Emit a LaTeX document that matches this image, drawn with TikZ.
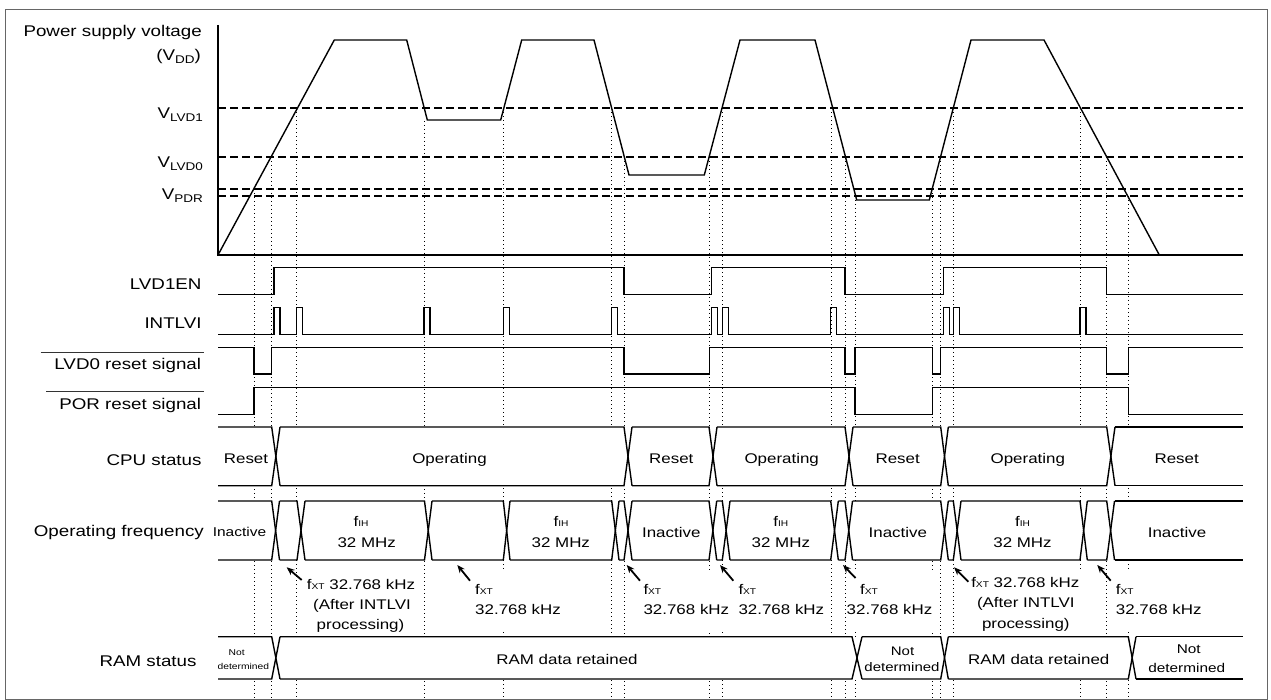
\documentclass[tikz,border=0pt]{standalone}
\usepackage{fontspec}
\setmainfont[FakeStretch=1.21]{Liberation Sans}
\usepackage{graphicx}
\usetikzlibrary{arrows.meta}
\newcommand\vsub[1]{\raisebox{-0.17em}{\scalebox{0.72}{#1}}}
\newcommand\fsub[1]{\raisebox{-0.03em}{\scalebox{0.6}{#1}}}
\newcommand\busrow[3]{%
  \fill[white] (218,#1) rectangle (1243,#2);
  \xdef\bprev{218}%
  \foreach \xa/\xb in {#3}{%
    \draw[wave] (\bprev,#1) -- (\xa,#1) -- (\xb,#2);
    \draw[wave] (\bprev,#2) -- (\xa,#2) -- (\xb,#1);
    \xdef\bprev{\xb}%
  }%
  \draw[wave] (\bprev,#1) -- (1243,#1);
  \draw[wave] (\bprev,#2) -- (1243,#2);
}
\begin{document}
\begin{tikzpicture}[x=1pt,y=-1pt,
  wave/.style={line width=1.4pt, line join=miter},
  dashl/.style={line width=1.6pt, dash pattern=on 8pt off 4pt},
  dotl/.style={line width=1pt, dash pattern=on 1pt off 3pt},
  lab/.style={anchor=base east, inner sep=0pt, font=\fontsize{15.5}{18}\selectfont},
  tx/.style={anchor=base, inner sep=0pt, font=\fontsize{14}{16}\selectfont},
  txw/.style={anchor=base west, inner sep=0pt, font=\fontsize{14}{16}\selectfont},
  arr/.style={line width=1.8pt, -{Stealth[length=8pt,width=6.5pt]}},
  ovl/.style={line width=1pt, black!80}]
\useasboundingbox (0,0) rectangle (1271,700);
\draw[black!60, line width=1pt] (5,10) rectangle (1267.5,699.5);

% dotted guide lines
\foreach \x/\y in {254/189.3, 271.7/157, 296.7/108.3, 424.5/121, 503.5/108.3,
  611.7/108.3, 624/157, 709/157, 722.3/108.3, 831.5/108.3, 845.5/157,
  855.5/196, 932.5/189.3, 940.7/157, 953.3/108.3, 1080.5/108.3, 1106.7/157, 1128.3/196}
  \draw[dotl] (\x,\y) -- (\x,700);

% threshold lines
\draw[dashl] (218,108.3) -- (1243,108.3);
\draw[dashl] (218,157) -- (1243,157);
\draw[dashl] (218,189.3) -- (1243,189.3);
\draw[dashl] (218,196) -- (1243,196);

% axes
\draw[wave] (218,25) -- (218,255) -- (1243,255);

% VDD waveform
\draw[wave] (218,255) -- (334.3,40) -- (406.7,40) -- (427.3,120) -- (500.7,120) -- (521.7,40)
  -- (594,40) -- (629,175) -- (704.3,175) -- (740,40) -- (815,40) -- (856.7,200)
  -- (929.3,200) -- (971,40) -- (1044,40) -- (1159.3,255);

% LVD1EN
\draw[wave] (218,294.3) -- (274,294.3) -- (274,267.7) -- (624,267.7) -- (624,294.3)
  -- (711.7,294.3) -- (711.7,267.7) -- (845,267.7) -- (845,294.3) -- (943.3,294.3)
  -- (943.3,267.7) -- (1106.7,267.7) -- (1106.7,294.3) -- (1243,294.3);

% INTLVI
\draw[wave] (218,334.3) foreach \x in {274,296.7,424,503.3,611.7,711.7,722.3,830.7,943.3,953.3,1080}
  { -- (\x,334.3) -- (\x,307.7) -- ({\x+6},307.7) -- ({\x+6},334.3) } -- (1243,334.3);

% LVD0 reset signal
\draw[wave] (218,347.7) -- (254,347.7) -- (254,374) -- (271.7,374) -- (271.7,347.7)
  -- (624,347.7) -- (624,374) -- (709.3,374) -- (709.3,347.7) -- (845,347.7) -- (845,374)
  -- (855,374) -- (855,347.7) -- (932.7,347.7) -- (932.7,374) -- (940.7,374) -- (940.7,347.7)
  -- (1106.7,347.7) -- (1106.7,374) -- (1128.3,374) -- (1128.3,347.7) -- (1243,347.7);

% POR reset signal
\draw[wave] (218,414.3) -- (254,414.3) -- (254,387.7) -- (855,387.7) -- (855,414.3)
  -- (932.7,414.3) -- (932.7,387.7) -- (1128.3,387.7) -- (1128.3,414.3) -- (1243,414.3);

% bus rows
\busrow{427}{485.7}{271.7/280, 624/632, 709/717, 845/853, 940.7/948.3, 1106.7/1115}
\busrow{501}{560}{271.7/279.5, 297/305, 424.5/432, 503.3/510, 611.7/619, 624/632, 709/716.7,
  722.3/730, 830.7/838.3, 845/852.5, 940.7/948.3, 953.3/961, 1080/1087.3, 1106.7/1114.5}
\busrow{636.7}{679}{271.7/280, 852/862, 940.7/948.3, 1128.3/1136}

% left labels
\node[lab] (lpsv) at (202,36.5) {Power supply voltage};
\node[lab] (lvdd) at (201,61) {(V\vsub{DD})};
\node[lab] (lv1) at (203,119) {V\vsub{LVD1}};
\node[lab] (lv0) at (203,167.7) {V\vsub{LVD0}};
\node[lab] (lvp) at (203,200) {V\vsub{PDR}};
\node[lab] (llen) at (201.7,289.3) {LVD1EN};
\node[lab] (lint) at (201.7,329) {INTLVI};
\node[lab] (llvd0) at (201.3,370) {LVD0 reset signal};
\node[lab] (lpor) at (201.3,409) {POR reset signal};
\node[lab] (lcpu) at (201.7,465.7) {CPU status};
\node[lab] (lfreq) at (204,536) {Operating frequency};
\node[lab] (lram) at (196.7,666) {RAM status};
\draw[ovl] (40.7,352.3) -- (204,352.3);
\draw[ovl] (46,391.7) -- (204,391.7);

% CPU status texts
\node[tx] (c1) at (246,463.5) {Reset};
\node[tx] (c2) at (449.5,463.5) {Operating};
\node[tx] (c3) at (671.3,463.5) {Reset};
\node[tx] (c4) at (781.7,463.5) {Operating};
\node[tx] (c5) at (897.7,463.5) {Reset};
\node[tx] (c6) at (1027.8,463.5) {Operating};
\node[tx] (c7) at (1176.7,463.5) {Reset};

% Operating frequency texts
\node[tx, font=\fontsize{12.8}{15}\selectfont] (f0) at (239.5,536.7) {Inactive};
\node[tx] (f1a) at (361,526) {f\fsub{IH}};
\node[tx] (f1b) at (366.7,547.7) {32 MHz};
\node[tx] (f2a) at (561,526) {f\fsub{IH}};
\node[tx] (f2b) at (560.8,547.7) {32 MHz};
\node[tx] (f3) at (671.3,537.3) {Inactive};
\node[tx] (f4a) at (780.8,526) {f\fsub{IH}};
\node[tx] (f4b) at (780.8,547.7) {32 MHz};
\node[tx] (f5) at (897.8,537.3) {Inactive};
\node[tx] (f6a) at (1022.5,526) {f\fsub{IH}};
\node[tx] (f6b) at (1022.5,547.7) {32 MHz};
\node[tx] (f7) at (1177,537.3) {Inactive};

% fXT annotations
\fill[white] (304,568) rectangle (418,634);
\fill[white] (473,570) rectangle (563,632);
\fill[white] (641,570) rectangle (731,632);
\fill[white] (736,570) rectangle (826,632);
\fill[white] (846.5,570) rectangle (933,632);
\fill[white] (968,570) rectangle (1082,634);
\fill[white] (1113,570) rectangle (1204,632);

\node[tx] (x1a) at (361,589.3) {f\fsub{XT} 32.768 kHz};
\node[tx] (x1b) at (362,609.3) {(After INTLVI};
\node[tx] (x1c) at (360.5,629.3) {processing)};
\node[txw] (x2a) at (475,594.3) {f\fsub{XT}};
\node[txw] (x2b) at (475,614.3) {32.768 kHz};
\node[txw] (x3a) at (643.3,594.3) {f\fsub{XT}};
\node[txw] (x3b) at (643.3,614.3) {32.768 kHz};
\node[txw] (x4a) at (738.3,594.3) {f\fsub{XT}};
\node[txw] (x4b) at (738.3,614.3) {32.768 kHz};
\node[txw] (x5a) at (860,594.3) {f\fsub{XT}};
\node[txw] (x5b) at (846.5,614.3) {32.768 kHz};
\node[tx] (x6a) at (1025.3,587) {f\fsub{XT} 32.768 kHz};
\node[tx] (x6b) at (1025.8,607.7) {(After INTLVI};
\node[tx] (x6c) at (1025.8,628.3) {processing)};
\node[txw] (x7a) at (1115.7,594.3) {f\fsub{XT}};
\node[txw] (x7b) at (1115.7,614.3) {32.768 kHz};

\coordinate (a1s) at (301.7,580);   \coordinate (a1e) at (286.7,567.3);
\coordinate (a2s) at (470,580.7);   \coordinate (a2e) at (457.3,565);
\coordinate (a3s) at (640,580.7);   \coordinate (a3e) at (626.7,565);
\coordinate (a4s) at (733.3,580.7); \coordinate (a4e) at (720,565);
\coordinate (a5s) at (855.5,578);   \coordinate (a5e) at (843,565);
\coordinate (a6s) at (968.3,581.7); \coordinate (a6e) at (954,567.3);
\coordinate (a7s) at (1110.7,580.7);\coordinate (a7e) at (1097.3,565);
\foreach \i in {1,...,7} \draw[arr] (a\i s) -- (a\i e);

% RAM status texts
\node[tx, font=\fontsize{8.5}{10}\selectfont] (r1a) at (236.7,655.7) {Not};
\node[tx, font=\fontsize{8.5}{10}\selectfont] (r1b) at (243.3,669.3) {determined};
\node[tx] (r2) at (567,664.3) {RAM data retained};
\node[tx, font=\fontsize{12.4}{15}\selectfont] (r3a) at (902.5,655.7) {Not};
\node[tx, font=\fontsize{12.4}{15}\selectfont] (r3b) at (902,671) {determined};
\node[tx] (r4) at (1038.8,664.3) {RAM data retained};
\node[tx, font=\fontsize{12.7}{15}\selectfont] (r5a) at (1188.7,653.3) {Not};
\node[tx, font=\fontsize{12.7}{15}\selectfont] (r5b) at (1186.7,672.3) {determined};
\end{tikzpicture}
\end{document}
